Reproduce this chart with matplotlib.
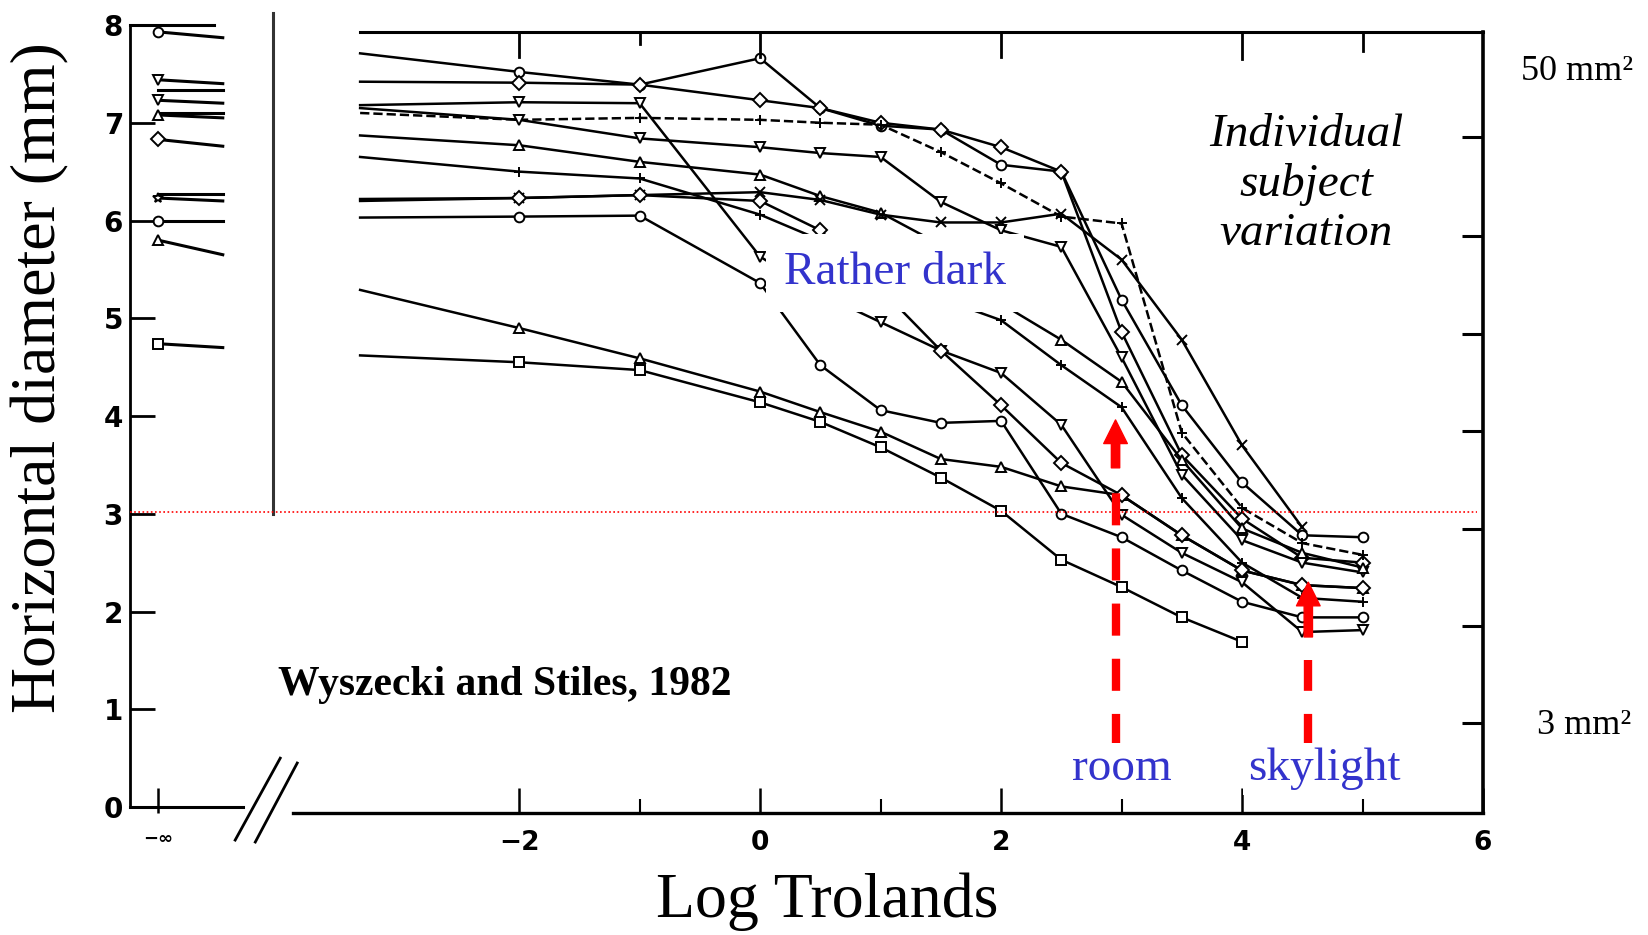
import numpy as np
import matplotlib
matplotlib.use("Agg")
import matplotlib.pyplot as plt

# retinal illuminance (log trolands) of the measurement columns
log_td = [-3.32, -2, -1, 0, 0.5, 1, 1.5, 2, 2.5, 3, 3.5, 4, 4.5, 5]

# horizontal pupil diameter (mm) for each subject
s1 = [7.71, 7.52, 7.39, 7.66, 7.15, 6.97, 6.93, 6.57, 6.50, 5.19, 4.11, 3.32, 2.78, 2.76]
s2 = [7.42, 7.41, 7.39, 7.23, 7.15, 7.00, 6.93, 6.75, 6.50, 4.86, 3.60, 2.95, 2.55, 2.50]
s3 = [7.18, 7.21, 7.20, 5.63, 5.25, 4.96, 4.67, 4.44, 3.91, 2.99, 2.60, 2.30, 1.79, 1.81]
s4 = [7.10, 7.03, 7.05, 7.03, 7.00, 6.98, 6.70, 6.38, 6.04, 5.97, 3.83, 3.06, 2.70, 2.58]
s5 = [7.15, 7.03, 6.84, 6.75, 6.69, 6.65, 6.19, 5.90, 5.73, 4.60, 3.40, 2.73, 2.50, 2.40]
s6 = [6.87, 6.77, 6.60, 6.47, 6.25, 6.08, 5.75, 5.15, 4.78, 4.35, 3.55, 2.85, 2.60, 2.45]
s7 = [6.65, 6.50, 6.43, 6.06, 5.80, 5.50, 5.20, 4.98, 4.52, 4.09, 3.16, 2.50, 2.14, 2.10]
s8 = [6.20, 6.23, 6.26, 6.29, 6.21, 6.06, 5.98, 5.98, 6.07, 5.60, 4.78, 3.70, 2.86, np.nan]
s9 = [5.29, 4.90, 4.59, 4.25, 4.04, 3.84, 3.56, 3.48, 3.28, 3.19, 2.78, 2.42, 2.27, 2.24]
s10 = [6.03, 6.04, 6.05, 5.36, 4.52, 4.06, 3.93, 3.95, 3.00, 2.76, 2.42, 2.10, 1.94, 1.94]
s11 = [4.62, 4.55, 4.47, 4.14, 3.94, 3.68, 3.37, 3.03, 2.53, 2.25, 1.94, 1.69, np.nan, np.nan]
s12 = [6.22, 6.23, 6.26, 6.20, 5.90, 5.30, 4.67, 4.11, 3.52, 3.19, 2.78, 2.42, 2.27, 2.24]

# values at -infinity (dark): marked value and end of the short line
inf_mark = [7.93, 7.44, 7.23, np.nan, 7.08, np.nan, 6.83, 6.23, 5.80, 6.00, 4.74, np.nan]
inf_end = [7.87, 7.40, 7.20, 7.10, 7.05, 7.33, 6.76, 6.20, 5.65, 6.00, 4.70, 6.27]

markers = ["o", "D", "v", "+", "v", "^", "+", "x", "^", "o", "s", "D"]
inf_markers = ["o", "v", "v", "", "^", "", "D", "*", "^", "o", "s", ""]
styles = ["-", "-", "-", "--", "-", "-", "-", "-", "-", "-", "-", "-"]

y_ticks = [0, 1, 2, 3, 4, 5, 6, 7, 8]
x_ticks = [-5.0, -2, 0, 2, 4, 6]
x_labels = ["\u2212\u221e", "\u22122", "0", "2", "4", "6"]
x_minor = [-1, 1, 3, 5]
top_ticks = [-2, -1, 0, 2, 4, 5]
top_len = [0.26, 0.12, 0.26, 0.26, 0.28, 0.2]
right_ticks = [0.86, 1.85, 2.84, 3.85, 4.84, 5.84, 6.85]

# red arrows: room / skylight
arrow_x = [2.95, 4.55]
arrow_tip = [3.96, 2.30]
arrow_shaft = [3.47, 1.74]
arrow_dash_top = [3.21, 1.50]
arrow_bottom = 0.62

W, H = 1648, 935
def fx(px):
    return px / W
def fy(py):
    return 1 - py / H

fig = plt.figure(figsize=(W / 100, H / 100), dpi=100)
ax = fig.add_axes([fx(130), fy(812.9), (1483 - 130) / W, (812.9 - 25) / H])
ax.set_xlim(-5.23, 6.0)
ax.set_ylim(-0.06, 8.0)

series = [s1, s2, s3, s4, s5, s6, s7, s8, s9, s10, s11, s12]
for i, s in enumerate(series):
    # the first point is where the scanned line starts, no symbol there
    ax.plot(log_td, s, color="black", lw=1.8, ls=styles[i], marker=markers[i],
            markevery=list(range(1, len(log_td))),
            ms=7, mfc="white", mec="black", mew=1.4, zorder=3)
    # short lines in the -infinity column
    start = inf_end[i] if np.isnan(inf_mark[i]) else inf_mark[i]
    ax.plot([-5.0, -4.46], [start, inf_end[i]], color="black", lw=2.2, zorder=3)
    if inf_markers[i]:
        ax.plot([-5.0], [inf_mark[i]], ls="none", marker=inf_markers[i], ms=7,
                mfc="white", mec="black", mew=1.4, zorder=4)

# frame pieces of the scanned figure
for side in ["top", "right"]:
    ax.spines[side].set_visible(False)
ax.spines["left"].set_bounds(0, 8)
ax.spines["left"].set_linewidth(2)
ax.spines["bottom"].set_bounds(-3.88, 6.0)
ax.spines["bottom"].set_linewidth(2.4)
ax.plot([-5.23, -4.29], [0, 0], color="black", lw=2.2, clip_on=False)
ax.plot([-4.357, -3.983], [-0.338, 0.50], color="black", lw=2, clip_on=False)
ax.plot([-4.19, -3.842], [-0.358, 0.45], color="black", lw=2, clip_on=False)
ax.plot([-3.32, 6.0], [7.93, 7.93], color="black", lw=2.2, clip_on=False)
ax.plot([-5.23, -4.53], [8.0, 8.0], color="black", lw=2.2, clip_on=False)
ax.plot([-4.04, -4.04], [3.0, 8.12], color="#333333", lw=2.2, clip_on=False)
for tx, tl in zip(top_ticks, top_len):
    ax.plot([tx, tx], [7.93 - tl, 7.93], color="black", lw=2, zorder=4)

ax.set_yticks(y_ticks)
ax.tick_params(axis="y", direction="in", length=18, width=2, pad=5, labelsize=20)
ax.set_xticks(x_ticks, labels=x_labels)
ax.set_xticks(x_minor, minor=True)
ax.tick_params(axis="x", which="major", direction="in", length=18, width=1.8, pad=12, labelsize=19)
ax.tick_params(axis="x", which="minor", direction="in", length=10, width=1.5)
for lab in ax.get_yticklabels() + ax.get_xticklabels():
    lab.set_fontweight("bold")
ax.get_xticklabels()[0].set_fontsize(13)

tw = ax.twinx()
tw.set_ylim(ax.get_ylim())
tw.set_yticks(right_ticks)
tw.tick_params(axis="y", direction="in", length=15, width=2.2, labelright=False)
for side in ["left", "top", "bottom"]:
    tw.spines[side].set_visible(False)
tw.spines["right"].set_bounds(-0.06, 7.93)
tw.spines["right"].set_linewidth(2.6)

# 3 mm reference line
ax.plot([-5.23, 5.95], [3.02, 3.02], color="red", lw=1.2, ls=(0, (1, 1.5)), zorder=5)

# dashed red arrows
for x, tip, shaft, dtop in zip(arrow_x, arrow_tip, arrow_shaft, arrow_dash_top):
    ax.plot([x, x], [arrow_bottom, dtop], color="red", lw=6, ls=(0, (3.85, 2.77)),
            solid_capstyle="butt", zorder=6)
    ax.annotate("", xy=(x, tip), xytext=(x, shaft),
                arrowprops=dict(facecolor="red", edgecolor="red", width=6,
                                headwidth=17, headlength=17, shrink=0), zorder=6)

serif = "Liberation Serif"
blue = "#3333cc"
fig.text(fx(40), fy(378), "Horizontal diameter (mm)", rotation=90, ha="center", va="center",
         family=serif, fontsize=46)
fig.text(fx(827), fy(902), "Log Trolands", ha="center", va="center", family=serif, fontsize=46)
fig.text(fx(505), fy(685), "Wyszecki and Stiles, 1982", ha="center", va="center", family=serif,
         fontsize=30, fontweight="bold")
fig.text(fx(895), fy(273), "Rather dark", ha="center", va="center", family=serif, fontsize=34,
         color=blue, bbox=dict(boxstyle="square,pad=0.38", fc="white", ec="none"))
fig.text(fx(1306), fy(184), "Individual\nsubject\nvariation", ha="center", va="center",
         family=serif, fontsize=34, style="italic", linespacing=1.2)
fig.text(fx(1122), fy(769), "room", ha="center", va="center", family=serif, fontsize=34,
         color=blue, bbox=dict(boxstyle="square,pad=0.1", fc="white", ec="none"))
fig.text(fx(1324), fy(769), "skylight", ha="center", va="center", family=serif, fontsize=34,
         color=blue, bbox=dict(boxstyle="square,pad=0.1", fc="white", ec="none"))
fig.text(fx(1577), fy(71), "50 mm\u00b2", ha="center", va="center", family=serif, fontsize=26)
fig.text(fx(1584), fy(725), "3 mm\u00b2", ha="center", va="center", family=serif, fontsize=26)

fig.savefig("out.png", dpi=100)
